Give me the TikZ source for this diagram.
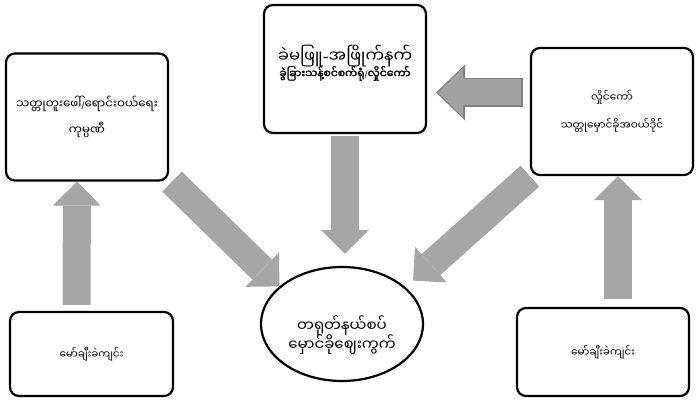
\documentclass[tikz,border=0pt]{standalone}
\usepackage{fontspec}
\newfontfamily\mmfont[Script=Myanmar]{Noto Sans Myanmar UI}
\newfontfamily\mmboldfont[Script=Myanmar,FakeBold=2]{Noto Sans Myanmar UI}
\newfontfamily\latinfont{DejaVu Sans}
\newcommand\mmdash{{\latinfont -}}
\newcommand\mmslash{{\latinfont\fontsize{9}{11}\selectfont /}}
\usetikzlibrary{arrows.meta,shapes.geometric}

\definecolor{arrowgray}{HTML}{A6A6A6}
\definecolor{fillgray}{HTML}{A2A2A2}
\definecolor{edgegray}{HTML}{7F7F7F}

\tikzset{
  box/.style={draw, line width=2.2pt, rounded corners=9pt, fill=white, align=center,
    minimum width=162pt, minimum height=127pt},
  bigarrow/.style={arrowgray, line width=28pt,
    -{Triangle[length=24pt,width=48pt,line width=0pt]}},
}

\begin{document}
\begin{tikzpicture}[x=1pt, y=1pt, font=\mmfont\fontsize{10.5}{12}\selectfont]

            \useasboundingbox (0,0) rectangle (698,401);

            \node[box, minimum height=128pt] (tin) at (345,332) {};
            \node[align=center] (tintxt) at (345,338)
                {{\fontsize{16.5}{18}\selectfont ခဲမဖြူ\mmdash အဖြိုက်နက်}\\[-2pt]
                 {\mmboldfont\fontsize{10.8}{12}\selectfont ခွဲခြားသန့်စင်စက်ရုံ\mmslash လှိုင်ကော်}};
            \node[box, font=\mmfont\fontsize{11.8}{13}\selectfont] (co) at (87,284)
                {သတ္တုတူးဖေါ်\mmslash ရောင်းဝယ်ရေး\\[9pt]ကုမ္ပဏီ};
            \node[box] (dep) at (612,289.5) {လှိုင်ကော်\\[13pt]သတ္တုမှောင်ခိုအဝယ်ဒိုင်};
            \node[box, minimum width=163pt, minimum height=84pt] (mineL) at (91.5,47) {မော်ချီးခဲကျင်း};
            \node[box, minimum width=172pt, minimum height=88pt] (mineR) at (603,49) {မော်ချီးခဲကျင်း};
            \node[draw, ellipse, line width=2.2pt, minimum width=162pt, minimum height=114pt] (mkt) at (342,77) {};
            \node[align=center, font=\mmfont\fontsize{15}{17}\selectfont] (mkttxt) at (342,66)
                {တရုတ်နယ်စပ်\\[-2pt]မှောင်ခိုဈေးကွက်};

            \draw[bigarrow] ([xshift=-15pt,yshift=6pt]mineL.north) -- ([xshift=-10pt]co.south);
            \draw[bigarrow] ([xshift=15pt,yshift=8pt]mineR.north) -- ([xshift=6pt]dep.south);
            \draw[bigarrow] ([yshift=-1.5pt]tin.south) -- ([xshift=3pt,yshift=12pt]mkt.north);
            \draw[bigarrow] ([xshift=3pt]co.south east) -- (mkt.149);
            \draw[bigarrow, shorten >=10pt] (dep.south west) -- (mkt.30);

            \draw[edgegray, line width=29pt, -{Triangle[length=29pt,width=56pt,line width=0pt]}]
                ([xshift=-7pt,yshift=19pt]dep.west) -- ([xshift=9pt,yshift=-23.5pt]tin.east);
            \draw[fillgray, line width=26pt, shorten <=1.5pt, shorten >=2.1pt,
                -{Triangle[length=25pt,width=50pt,line width=0pt]}]
                ([xshift=-7pt,yshift=19pt]dep.west) -- ([xshift=9pt,yshift=-23.5pt]tin.east);

        \end{tikzpicture}
\end{document}
